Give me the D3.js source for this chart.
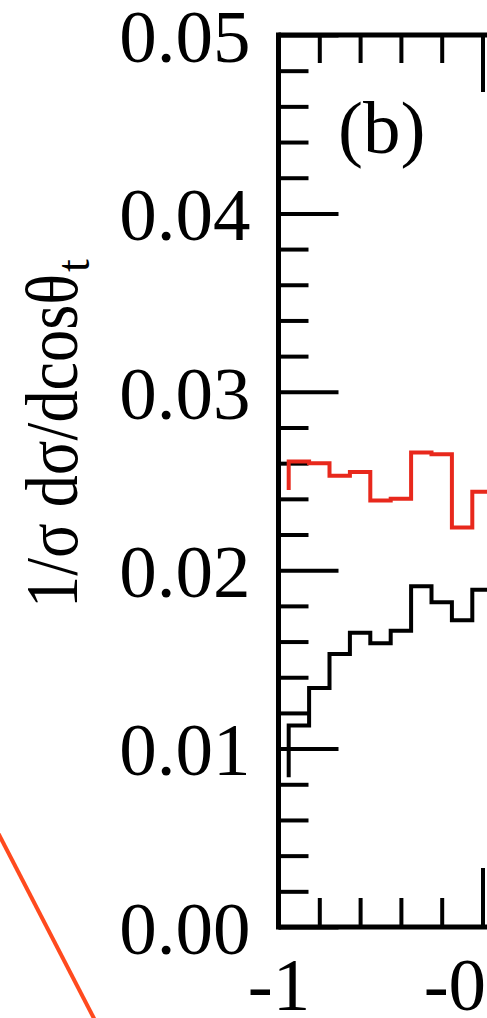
<!DOCTYPE html>
<html>
<head>
<meta charset="utf-8">
<script src="https://cdn.jsdelivr.net/npm/d3@7"></script>
<style>
  html, body { margin: 0; padding: 0; background: #fff; }
  svg { display: block; }
  text { font-family: "Liberation Serif", "Times New Roman", serif; fill: #000; }
</style>
</head>
<body>
<script>
// cos(theta_t) step positions and the two histograms (fsteps style)
var cosTheta = [-0.975, -0.925, -0.875, -0.825, -0.775, -0.725, -0.675, -0.625, -0.575, -0.525, -0.475];
var redSeries = [0.0245, 0.0261, 0.0260, 0.0253, 0.0255, 0.0239, 0.0240, 0.0266, 0.0265, 0.0224, 0.0244];
var blackSeries = [0.0084, 0.0113, 0.0134, 0.0153, 0.0165, 0.0159, 0.0166, 0.0191, 0.0182, 0.0172, 0.0189];

var yMajor = [0.00, 0.01, 0.02, 0.03, 0.04, 0.05];
var xMajor = [-1, -0.5];
var xMinor = [-0.9, -0.8, -0.7, -0.6];

var WIDTH = 487, HEIGHT = 1018;
var FONT = 75;

var svg = d3.select("body").append("svg")
    .attr("width", WIDTH)
    .attr("height", HEIGHT);

var x = d3.scaleLinear().domain([-1, 1]).range([278.5, 278.5 + 816]);
var y = d3.scaleLinear().domain([0, 0.05]).range([927, 35]);

// minor y ticks every 0.002
var yMinor = d3.range(0, 51, 2).map(function(d) { return d / 1000; })
    .filter(function(d) { return Math.round(d * 1000) % 10 !== 0; });

// left axis, ticks pointing inward
var leftAxis = svg.append("g").attr("transform", "translate(" + x(-1) + ",0)");
leftAxis.call(d3.axisLeft(y).tickValues(yMajor).tickSize(-60).tickPadding(28)
    .tickFormat(d3.format(".2f")));
leftAxis.append("g").call(d3.axisLeft(y).tickValues(yMinor).tickSize(-30).tickFormat(""));

// bottom axis
var bottomAxis = svg.append("g").attr("transform", "translate(0," + y(0) + ")");
bottomAxis.call(d3.axisBottom(x).tickValues(xMajor).tickSize(-59).tickPadding(30)
    .tickFormat(function(d) { return String(d); }));
bottomAxis.append("g").call(d3.axisBottom(x).tickValues(xMinor).tickSize(-29).tickFormat(""));

// top axis
var topAxis = svg.append("g").attr("transform", "translate(0," + y(0.05) + ")");
topAxis.call(d3.axisTop(x).tickValues(xMajor).tickSize(-57).tickFormat(""));
topAxis.append("g").call(d3.axisTop(x).tickValues(xMinor).tickSize(-28).tickFormat(""));

svg.selectAll(".domain").remove();
svg.selectAll(".tick line").attr("stroke", "#000").attr("stroke-width", 4);
svg.selectAll("g").attr("font-size", FONT).attr("font-family", "'Liberation Serif', 'Times New Roman', serif");
svg.selectAll(".tick text").attr("fill", "#000");
leftAxis.selectAll(".tick text").attr("dy", "0.35em");

// frame lines
svg.append("line")
    .attr("x1", x(-1)).attr("x2", x(-1))
    .attr("y1", y(0.05) - 2.5).attr("y2", y(0) + 2.5)
    .attr("stroke", "#000").attr("stroke-width", 5);
svg.append("line")
    .attr("x1", x(-1)).attr("x2", WIDTH)
    .attr("y1", y(0.05)).attr("y2", y(0.05))
    .attr("stroke", "#000").attr("stroke-width", 5);
svg.append("line")
    .attr("x1", x(-1)).attr("x2", WIDTH)
    .attr("y1", y(0)).attr("y2", y(0))
    .attr("stroke", "#000").attr("stroke-width", 5);

// histograms
var line = d3.line()
    .x(function(d) { return x(d[0]); })
    .y(function(d) { return y(d[1]); })
    .curve(d3.curveStepBefore);

svg.append("path")
    .attr("d", line(d3.zip(cosTheta, redSeries)))
    .attr("fill", "none")
    .attr("stroke", "#e8281c")
    .attr("stroke-width", 4);

svg.append("path")
    .attr("d", line(d3.zip(cosTheta, blackSeries)))
    .attr("fill", "none")
    .attr("stroke", "#000")
    .attr("stroke-width", 4);

// panel label
svg.append("text")
    .attr("x", 338).attr("y", 153)
    .style("font-size", FONT + "px")
    .text("(b)");

// y axis title
svg.append("text")
    .attr("transform", "translate(77,608) rotate(-90)")
    .attr("textLength", 334)
    .attr("lengthAdjust", "spacingAndGlyphs")
    .style("font-size", FONT + "px")
    .text("1/\u03c3 d\u03c3/dcos\u03b8");
svg.append("text")
    .attr("transform", "translate(89,272) rotate(-90)")
    .style("font-size", "46px")
    .text("t");

// orange stroke from the neighbouring panel
svg.append("line")
    .attr("x1", -5).attr("y1", 827)
    .attr("x2", 100).attr("y2", 1030)
    .attr("stroke", "#ff4a1e")
    .attr("stroke-width", 4);
</script>
</body>
</html>
